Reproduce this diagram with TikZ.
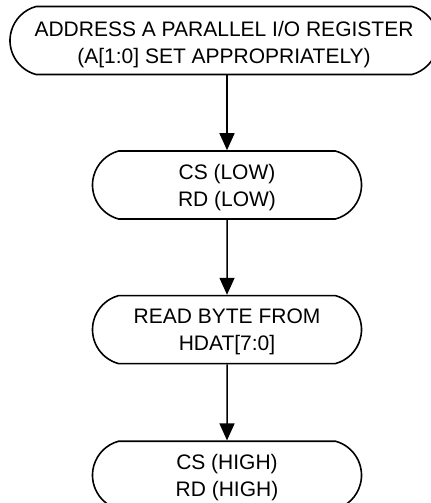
\documentclass[tikz,border=0pt]{standalone}
\usepackage{fontspec}
\setmainfont{Liberation Sans}
\usepackage{tikz}
\usetikzlibrary{positioning,shapes.misc,arrows.meta}

\begin{document}
\begin{tikzpicture}[
    term/.style={draw, rounded rectangle, rounded rectangle arc length=150, line width=0.8pt,
        minimum width=134.5pt, minimum height=34pt, inner sep=0pt, align=center,
        text depth=0pt, font=\fontsize{10.5pt}{13.5pt}\selectfont},
    flow/.style={-{Triangle[length=8.5pt,width=7.5pt]}, line width=0.75pt}]

    \useasboundingbox (0,0) rectangle (215.5pt,-251.5pt);

    \node [term, minimum width=208pt, inner xsep=-3pt, text height=23.4pt] (addr) at (112pt,-20.25pt) {ADDRESS A PARALLEL I/O REGISTER\\(A[1:0] SET APPROPRIATELY)};
    \node [term] (cslow) at (113.5pt,-92.5pt) {CS (LOW)\\RD (LOW)};
    \node [term, below=37.5pt of cslow] (read) {READ BYTE FROM\\HDAT[7:0]};
    \node [term, below=38pt of read] (cshigh) {CS (HIGH)\\RD (HIGH)};

    \draw [flow] (addr.south -| cslow.north) -- (cslow.north);
    \draw [flow] (cslow) -- (read);
    \draw [flow] (read) -- (cshigh);

\end{tikzpicture}
\end{document}
